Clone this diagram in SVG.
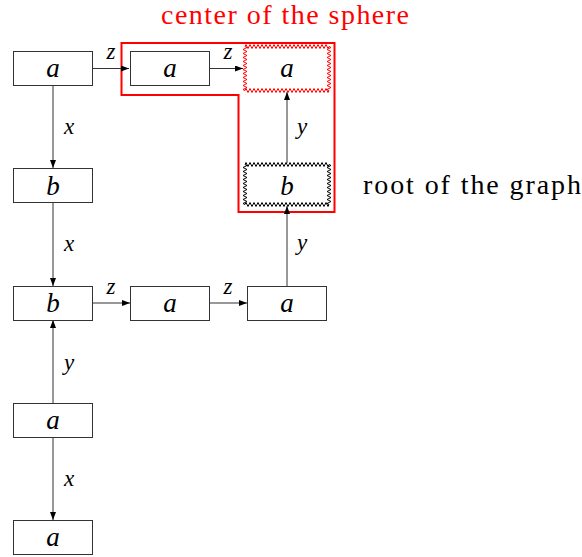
<svg xmlns="http://www.w3.org/2000/svg" width="582" height="557" viewBox="0 0 582 557">
<style>
.box{fill:#fff;stroke:#333;stroke-width:1}
.zz{fill:#fff;stroke-width:1;stroke-linejoin:miter}
text{font-family:'Liberation Serif','DejaVu Serif',serif}
.lbl{font-style:italic;font-size:27px;text-anchor:middle;fill:#000}
.el{font-style:italic;font-size:23px;text-anchor:middle;fill:#000}
.edge{stroke:#333;stroke-width:1;fill:none;marker-end:url(#ah)}
.note{font-size:28px}
</style>
<defs>
<marker id="ah" viewBox="0 0 8 6" refX="8" refY="3" markerWidth="8" markerHeight="6" markerUnits="userSpaceOnUse" orient="auto">
<path d="M0,0 L8,3 L0,6 z" fill="#000"/>
</marker>
</defs>
<path id="sphere" d="M121.5,43 H334.5 V212 H238.5 V95 H121.5 Z" fill="none" stroke="#f00" stroke-width="2"/>
<g id="connectors">
<line class="edge" x1="53" y1="86" x2="53" y2="168"/>
<line class="edge" x1="53" y1="203" x2="53" y2="286"/>
<line class="edge" x1="53" y1="403" x2="53" y2="320"/>
<line class="edge" x1="53" y1="438" x2="53" y2="520"/>
<line class="edge" x1="93" y1="68.5" x2="129" y2="68.5"/>
<line class="edge" x1="210" y1="68.5" x2="243" y2="68.5"/>
<line class="edge" x1="93" y1="303" x2="130" y2="303"/>
<line class="edge" x1="210" y1="303" x2="247" y2="303"/>
<line class="edge" x1="287" y1="286" x2="287" y2="206"/>
<line class="edge" x1="287" y1="163" x2="287" y2="92"/>
<text class="el" x="69" y="134">x</text>
<text class="el" x="69" y="251">x</text>
<text class="el" x="69" y="370">y</text>
<text class="el" x="69" y="486">x</text>
<text class="el" x="111" y="59">z</text>
<text class="el" x="228" y="59">z</text>
<text class="el" x="111" y="294">z</text>
<text class="el" x="228" y="294">z</text>
<text class="el" x="302" y="250">y</text>
<text class="el" x="302" y="134">y</text>
</g>
<g id="n1"><rect class="box" x="13.5" y="51.5" width="79" height="34"/><text class="lbl" x="53" y="77">a</text></g>
<g id="n2"><rect class="box" x="130.5" y="51.5" width="79" height="34"/><text class="lbl" x="170" y="77">a</text></g>
<g id="n3"><path class="zz" stroke="#f00" d="M245,46.5 l1,-2 2,4 2,-4 2,4 2,-4 2,4 2,-4 2,4 2,-4 2,4 2,-4 2,4 2,-4 2,4 2,-4 2,4 2,-4 2,4 2,-4 2,4 2,-4 2,4 2,-4 2,4 2,-4 2,4 2,-4 2,4 2,-4 2,4 2,-4 2,4 2,-4 2,4 2,-4 2,4 2,-4 2,4 2,-4 2,4 2,-4 2,4 1,-2 l2,1 -4,2 4,2 -4,2 4,2 -4,2 4,2 -4,2 4,2 -4,2 4,2 -4,2 4,2 -4,2 4,2 -4,2 4,2 -4,2 4,2 -4,2 4,2 -4,2 2,1 l-1,2 -2,-4 -2,4 -2,-4 -2,4 -2,-4 -2,4 -2,-4 -2,4 -2,-4 -2,4 -2,-4 -2,4 -2,-4 -2,4 -2,-4 -2,4 -2,-4 -2,4 -2,-4 -2,4 -2,-4 -2,4 -2,-4 -2,4 -2,-4 -2,4 -2,-4 -2,4 -2,-4 -2,4 -2,-4 -2,4 -2,-4 -2,4 -2,-4 -2,4 -2,-4 -2,4 -2,-4 -2,4 -2,-4 -1,2 l-2,-1 4,-2 -4,-2 4,-2 -4,-2 4,-2 -4,-2 4,-2 -4,-2 4,-2 -4,-2 4,-2 -4,-2 4,-2 -4,-2 4,-2 -4,-2 4,-2 -4,-2 4,-2 -4,-2 4,-2 -2,-1 z"/><text class="lbl" x="287" y="77">a</text></g>
<g id="n4"><rect class="box" x="13.5" y="168.5" width="79" height="34"/><text class="lbl" x="53" y="194.5">b</text></g>
<g id="n5"><path class="zz" stroke="#000" d="M245,164.5 l1,-2 2,4 2,-4 2,4 2,-4 2,4 2,-4 2,4 2,-4 2,4 2,-4 2,4 2,-4 2,4 2,-4 2,4 2,-4 2,4 2,-4 2,4 2,-4 2,4 2,-4 2,4 2,-4 2,4 2,-4 2,4 2,-4 2,4 2,-4 2,4 2,-4 2,4 2,-4 2,4 2,-4 2,4 2,-4 2,4 2,-4 2,4 1,-2 l2,1 -4,2 4,2 -4,2 4,2 -4,2 4,2 -4,2 4,2 -4,2 4,2 -4,2 4,2 -4,2 4,2 -4,2 4,2 -4,2 4,2 -4,2 2,1 l-1,2 -2,-4 -2,4 -2,-4 -2,4 -2,-4 -2,4 -2,-4 -2,4 -2,-4 -2,4 -2,-4 -2,4 -2,-4 -2,4 -2,-4 -2,4 -2,-4 -2,4 -2,-4 -2,4 -2,-4 -2,4 -2,-4 -2,4 -2,-4 -2,4 -2,-4 -2,4 -2,-4 -2,4 -2,-4 -2,4 -2,-4 -2,4 -2,-4 -2,4 -2,-4 -2,4 -2,-4 -2,4 -2,-4 -1,2 l-2,-1 4,-2 -4,-2 4,-2 -4,-2 4,-2 -4,-2 4,-2 -4,-2 4,-2 -4,-2 4,-2 -4,-2 4,-2 -4,-2 4,-2 -4,-2 4,-2 -4,-2 4,-2 -2,-1 z"/><text class="lbl" x="287" y="194.5">b</text></g>
<g id="n6"><rect class="box" x="13.5" y="286.5" width="79" height="34"/><text class="lbl" x="53" y="311.5">b</text></g>
<g id="n7"><rect class="box" x="130.5" y="286.5" width="79" height="34"/><text class="lbl" x="170" y="311.5">a</text></g>
<g id="n8"><rect class="box" x="247.5" y="286.5" width="79" height="34"/><text class="lbl" x="287" y="311.5">a</text></g>
<g id="n9"><rect class="box" x="13.5" y="403.5" width="79" height="34"/><text class="lbl" x="53" y="428.5">a</text></g>
<g id="n10"><rect class="box" x="13.5" y="520.5" width="79" height="34"/><text class="lbl" x="53" y="545.5">a</text></g>
<text class="note" x="161" y="24" fill="#f00" textLength="248" lengthAdjust="spacing">center of the sphere</text>
<text class="note" x="363" y="194" fill="#000" textLength="218" lengthAdjust="spacing">root of the graph</text>
</svg>
